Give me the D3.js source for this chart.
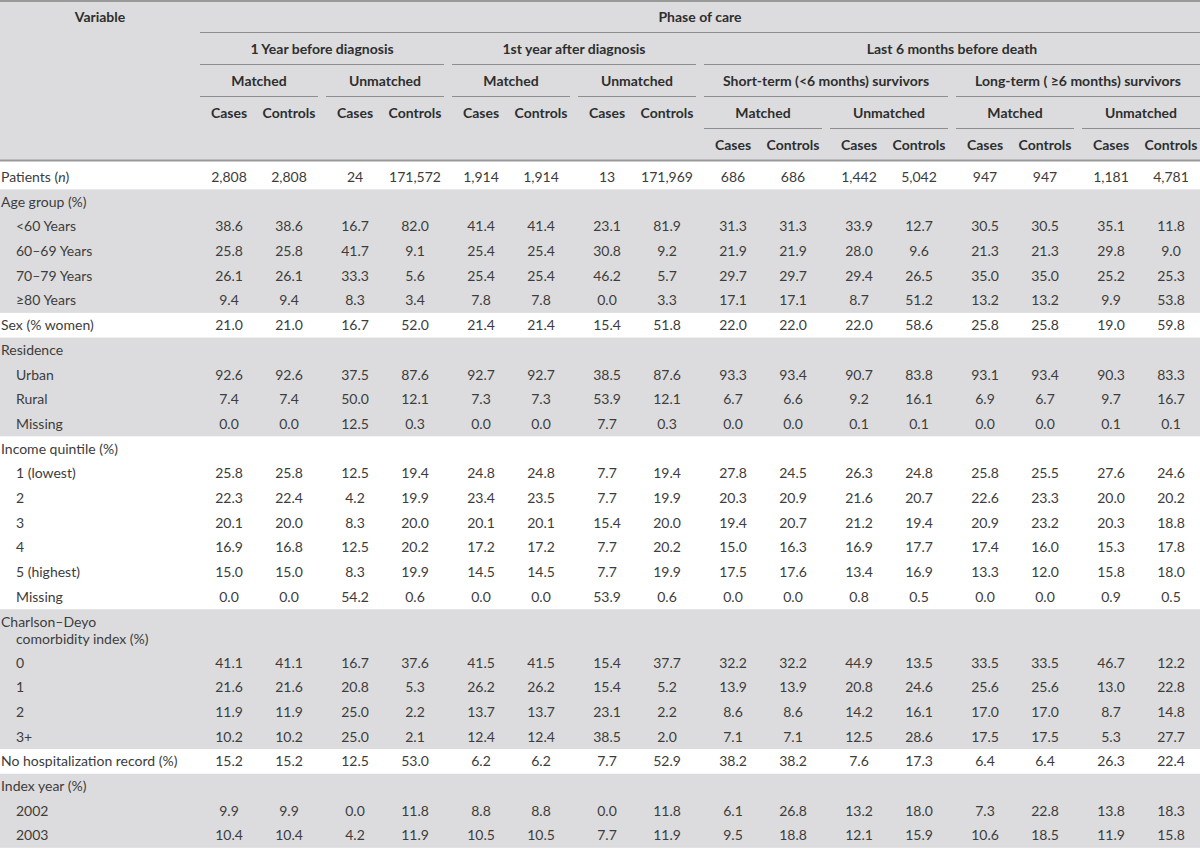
<!DOCTYPE html>
<html>
<head>
<meta charset="utf-8">
<script src="https://cdn.jsdelivr.net/npm/d3@7"></script>
<style>
  body { margin: 0; background: #fff; }
  svg text { font-family: Lato, "Open Sans", sans-serif; font-size: 14px; }
  .hdr { font-weight: 700; fill: #2e2e2e; }
  .cell { fill: #3c3c3c; }
  .lbl { fill: #3c3c3c; }
</style>
</head>
<body>
<div id="vis"></div>
<script>
// ---- data ----
const phases = ['1 Year before diagnosis', '1st year after diagnosis', 'Last 6 months before death'];
const survivorGroups = ['Short-term (<6 months) survivors', 'Long-term ( \u22656 months) survivors'];
const matchTypes = ['Matched', 'Unmatched'];
const roles = ['Cases', 'Controls'];

const rowLabels = ['Patients (n)', 'Age group (%)', '<60 Years', '60\u201369 Years', '70\u201379 Years', '\u226580 Years',
  'Sex (% women)', 'Residence', 'Urban', 'Rural', 'Missing', 'Income quintile (%)', '1 (lowest)', '2', '3', '4',
  '5 (highest)', 'Missing', 'Charlson\u2013Deyo|comorbidity index (%)', '0', '1', '2', '3+',
  'No hospitalization record (%)', 'Index year (%)', '2002', '2003'];
// 0 = variable heading, 1 = category under it
const rowLevel = [0, 0, 1, 1, 1, 1, 0, 0, 1, 1, 1, 0, 1, 1, 1, 1, 1, 1, 0, 1, 1, 1, 1, 0, 0, 1, 1];

const patients   = [2808, 2808, 24, 171572, 1914, 1914, 13, 171969, 686, 686, 1442, 5042, 947, 947, 1181, 4781];
const ageUnder60 = [38.6, 38.6, 16.7, 82.0, 41.4, 41.4, 23.1, 81.9, 31.3, 31.3, 33.9, 12.7, 30.5, 30.5, 35.1, 11.8];
const age60to69  = [25.8, 25.8, 41.7, 9.1, 25.4, 25.4, 30.8, 9.2, 21.9, 21.9, 28.0, 9.6, 21.3, 21.3, 29.8, 9.0];
const age70to79  = [26.1, 26.1, 33.3, 5.6, 25.4, 25.4, 46.2, 5.7, 29.7, 29.7, 29.4, 26.5, 35.0, 35.0, 25.2, 25.3];
const age80plus  = [9.4, 9.4, 8.3, 3.4, 7.8, 7.8, 0.0, 3.3, 17.1, 17.1, 8.7, 51.2, 13.2, 13.2, 9.9, 53.8];
const sexWomen   = [21.0, 21.0, 16.7, 52.0, 21.4, 21.4, 15.4, 51.8, 22.0, 22.0, 22.0, 58.6, 25.8, 25.8, 19.0, 59.8];
const resUrban   = [92.6, 92.6, 37.5, 87.6, 92.7, 92.7, 38.5, 87.6, 93.3, 93.4, 90.7, 83.8, 93.1, 93.4, 90.3, 83.3];
const resRural   = [7.4, 7.4, 50.0, 12.1, 7.3, 7.3, 53.9, 12.1, 6.7, 6.6, 9.2, 16.1, 6.9, 6.7, 9.7, 16.7];
const resMissing = [0.0, 0.0, 12.5, 0.3, 0.0, 0.0, 7.7, 0.3, 0.0, 0.0, 0.1, 0.1, 0.0, 0.0, 0.1, 0.1];
const income1    = [25.8, 25.8, 12.5, 19.4, 24.8, 24.8, 7.7, 19.4, 27.8, 24.5, 26.3, 24.8, 25.8, 25.5, 27.6, 24.6];
const income2    = [22.3, 22.4, 4.2, 19.9, 23.4, 23.5, 7.7, 19.9, 20.3, 20.9, 21.6, 20.7, 22.6, 23.3, 20.0, 20.2];
const income3    = [20.1, 20.0, 8.3, 20.0, 20.1, 20.1, 15.4, 20.0, 19.4, 20.7, 21.2, 19.4, 20.9, 23.2, 20.3, 18.8];
const income4    = [16.9, 16.8, 12.5, 20.2, 17.2, 17.2, 7.7, 20.2, 15.0, 16.3, 16.9, 17.7, 17.4, 16.0, 15.3, 17.8];
const income5    = [15.0, 15.0, 8.3, 19.9, 14.5, 14.5, 7.7, 19.9, 17.5, 17.6, 13.4, 16.9, 13.3, 12.0, 15.8, 18.0];
const incMissing = [0.0, 0.0, 54.2, 0.6, 0.0, 0.0, 53.9, 0.6, 0.0, 0.0, 0.8, 0.5, 0.0, 0.0, 0.9, 0.5];
const cci0       = [41.1, 41.1, 16.7, 37.6, 41.5, 41.5, 15.4, 37.7, 32.2, 32.2, 44.9, 13.5, 33.5, 33.5, 46.7, 12.2];
const cci1       = [21.6, 21.6, 20.8, 5.3, 26.2, 26.2, 15.4, 5.2, 13.9, 13.9, 20.8, 24.6, 25.6, 25.6, 13.0, 22.8];
const cci2       = [11.9, 11.9, 25.0, 2.2, 13.7, 13.7, 23.1, 2.2, 8.6, 8.6, 14.2, 16.1, 17.0, 17.0, 8.7, 14.8];
const cci3plus   = [10.2, 10.2, 25.0, 2.1, 12.4, 12.4, 38.5, 2.0, 7.1, 7.1, 12.5, 28.6, 17.5, 17.5, 5.3, 27.7];
const noHosp     = [15.2, 15.2, 12.5, 53.0, 6.2, 6.2, 7.7, 52.9, 38.2, 38.2, 7.6, 17.3, 6.4, 6.4, 26.3, 22.4];
const year2002   = [9.9, 9.9, 0.0, 11.8, 8.8, 8.8, 0.0, 11.8, 6.1, 26.8, 13.2, 18.0, 7.3, 22.8, 13.8, 18.3];
const year2003   = [10.4, 10.4, 4.2, 11.9, 10.5, 10.5, 7.7, 11.9, 9.5, 18.8, 12.1, 15.9, 10.6, 18.5, 11.9, 15.8];

// values per row (null = heading row with no numbers)
const rowValues = [patients, null, ageUnder60, age60to69, age70to79, age80plus, sexWomen, null, resUrban, resRural,
  resMissing, null, income1, income2, income3, income4, income5, incMissing, null, cci0, cci1, cci2, cci3plus,
  noHosp, null, year2002, year2003];
// shaded groups of rows (first, last row index)
const shadedBlocks = [[1, 5], [7, 10], [18, 22], [24, 26]];

// ---- layout ----
const width = 1200, height = 850;
const grey = '#dcdcde';
const ruleColor = '#8e8e8e';

const svg = d3.select('#vis').append('svg')
  .attr('width', width).attr('height', height);

// 8 column pairs (matched/unmatched per phase) and cases/controls inside
const pairs = d3.range(8);
const xPair = d3.scaleBand().domain(pairs).range([196, 1204]);
const xRole = d3.scalePoint().domain(roles).range([33, 93]);
const colX = i => xPair(Math.floor(i / 2)) + xRole(roles[i % 2]);

// row geometry
const rowH = 24.7;
const heights = rowLabels.map(l => l.includes('|') ? rowH + 16.3 : rowH);
const bodyTop = 164.65;
const tops = [bodyTop, ...d3.cumsum(heights).map(v => bodyTop + v)];

// ---- header ----
const header = svg.append('g');
header.append('rect').attr('x', 0).attr('y', 0).attr('width', width).attr('height', 160).attr('fill', grey);

// shaded body blocks
svg.append('g').selectAll('rect')
  .data(shadedBlocks)
  .join('rect')
  .attr('x', 0).attr('width', width)
  .attr('y', d => tops[d[0]])
  .attr('height', d => tops[d[1] + 1] - tops[d[0]])
  .attr('fill', grey);

const hy = [17, 49, 81, 113, 145];   // header text rows
const ly = [32.5, 64.5, 96.5, 128.5]; // header rules

function hText(x, y, t) {
  header.append('text').attr('class', 'hdr')
    .attr('x', x).attr('y', y).attr('dy', '0.35em')
    .attr('text-anchor', 'middle').text(t);
}
function rule(x1, x2, y) {
  header.append('line').attr('x1', x1).attr('x2', Math.min(x2, width))
    .attr('y1', y).attr('y2', y)
    .attr('stroke', ruleColor).attr('stroke-width', 1);
}
const span = (a, b) => [xPair(a) + 4, xPair(b) + xPair.bandwidth() - 4];

hText(100, hy[0], 'Variable');
hText(700, hy[0], 'Phase of care');
rule(200, 1200, ly[0]);

// phases
const phasePairs = [[0, 1], [2, 3], [4, 7]];
phases.forEach((p, i) => {
  const [a, b] = span(...phasePairs[i]);
  hText((a + Math.min(b, width)) / 2, hy[1], p);
  rule(a, b, ly[1]);
});

// survivor groups in the last phase
survivorGroups.forEach((s, i) => {
  const [a, b] = span(4 + i * 2, 5 + i * 2);
  hText((a + Math.min(b, width)) / 2, hy[2], s);
  rule(a, b, ly[2]);
});

// matched / unmatched
pairs.forEach(p => {
  const [a, b] = span(p, p);
  const row = p < 4 ? 2 : 3;
  hText((a + Math.min(b, width)) / 2, hy[row], matchTypes[p % 2]);
  rule(a, b, ly[row]);
  roles.forEach(r => hText(xPair(p) + xRole(r), hy[row + 1], r));
});

// top border and header bottom rule
svg.append('line').attr('x1', 0).attr('x2', width).attr('y1', 1).attr('y2', 1)
  .attr('stroke', '#999').attr('stroke-width', 2);
svg.append('line').attr('x1', 0).attr('x2', width).attr('y1', 160.5).attr('y2', 160.5)
  .attr('stroke', '#999').attr('stroke-width', 2);

// ---- body ----
const body = svg.append('g');
const fmtCount = d3.format(',');
const fmtPct = d3.format('.1f');

rowLabels.forEach((label, r) => {
  const indent = rowLevel[r] ? 16 : 1;
  const lines = label.split('|');
  const yc = tops[r] + 12.35;
  lines.forEach((ln, k) => {
    const t = body.append('text').attr('class', 'lbl')
      .attr('x', k ? 16 : indent).attr('y', yc + k * 17).attr('dy', '0.35em');
    if (ln === 'Patients (n)') {
      t.append('tspan').text('Patients (');
      t.append('tspan').attr('font-style', 'italic').text('n');
      t.append('tspan').text(')');
    } else {
      t.text(ln);
    }
  });
  const vals = rowValues[r];
  if (!vals) return;
  const fmt = r === 0 ? fmtCount : fmtPct;
  body.append('g').selectAll('text')
    .data(vals)
    .join('text')
    .attr('class', 'cell')
    .attr('x', (d, i) => colX(i))
    .attr('y', yc).attr('dy', '0.35em')
    .attr('text-anchor', 'middle')
    .text(d => fmt(d));
});
</script>
</body>
</html>
